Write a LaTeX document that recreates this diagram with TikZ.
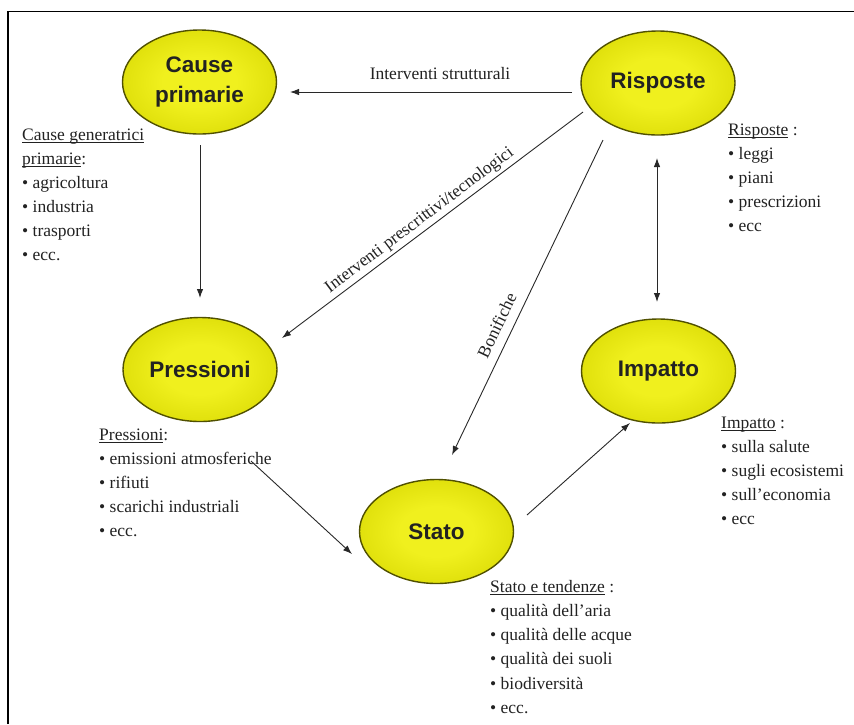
\documentclass[tikz,border=0pt]{standalone}
\usepackage{fontspec}
\setmainfont{Liberation Serif}
\newfontfamily\titlefont{Liberation Sans}
\usetikzlibrary{shapes.geometric,arrows.meta,calc}

\definecolor{yc}{RGB}{240,240,30}
\definecolor{ym}{RGB}{214,214,0}
\definecolor{yd}{RGB}{160,160,0}
\definecolor{ydk}{RGB}{80,80,0}
\definecolor{txt}{RGB}{34,34,34}
\definecolor{arr}{RGB}{40,40,40}

\pgfdeclareradialshading{ellshade}{\pgfpoint{0bp}{0bp}}{%
  color(0bp)=(yc); color(12bp)=(yc); color(34bp)=(ym);
  color(50bp)=(yd); color(70bp)=(yd)}

% underline sitting just below the baseline
\newcommand\ulin[1]{\setbox0\hbox{#1}\rlap{\vrule width\wd0 height-2.2pt depth3.1pt}\box0\relax}
% a stack of lines whose first baseline is the node's base
\newcommand\stack[2]{\vtop{\baselineskip=#1pt\lineskiplimit=-100pt\relax #2}}
\newcommand\itm[1]{\hbox{\textbullet\ #1}}

\begin{document}
\begin{tikzpicture}[x=1pt,y=-1pt,
  phase/.style={ellipse, draw=ydk, line width=1.4pt, shade, shading=ellshade,
    minimum width=154pt, minimum height=104pt, inner sep=0pt,
    font=\titlefont\bfseries\fontsize{22.5}{30}\selectfont, text=txt, align=center},
  blk/.style={anchor=base west, inner sep=0pt, text=txt,
    font=\fontsize{17.5}{24}\selectfont},
  lbl/.style={inner sep=2pt, text=txt, font=\fontsize{17.5}{20}\selectfont},
  conn/.style={draw=arr, line width=0.9pt, -{Latex[length=9pt,width=6.5pt]}},
  conn2/.style={draw=arr, line width=0.9pt, {Latex[length=9pt,width=6.5pt]}-{Latex[length=9pt,width=6.5pt]}}
]
\useasboundingbox (0,0) rectangle (854,724);

% frame
\draw[line width=1.4pt] (8,724) -- (8,11.5) -- (854,11.5);

% the five phases
\node[phase] (C) at (199.5,82) {Cause\\primarie};
\node[phase] (R) at (658,83) {Risposte};
\node[phase] (P) at (200,369.5) {Pressioni};
\node[phase] (I) at (658.5,371) {Impatto};
\node[phase] (S) at (436.5,531.5) {Stato};

% descriptions
\node[blk] (tC) at (22,140) {\stack{24}{%
  \hbox{\ulin{Cause generatrici}}
  \hbox{\ulin{primarie}:}
  \itm{agricoltura}
  \itm{industria}
  \itm{trasporti}
  \itm{ecc.}}};
\node[blk] (tR) at (728,135) {\stack{24}{%
  \hbox{\ulin{Risposte} :}
  \itm{leggi}
  \itm{piani}
  \itm{prescrizioni}
  \itm{ecc}}};
\node[blk] (tP) at (99,440) {\stack{24}{%
  \hbox{\ulin{Pressioni}:}
  \itm{emissioni atmosferiche}
  \itm{rifiuti}
  \itm{scarichi industriali}
  \itm{ecc.}}};
\node[blk] (tI) at (721,428) {\stack{24}{%
  \hbox{\ulin{Impatto} :}
  \itm{sulla salute}
  \itm{sugli ecosistemi}
  \itm{sull'economia}
  \itm{ecc}}};
\node[blk] (tS) at (490,592) {\stack{24.3}{%
  \hbox{\ulin{Stato e tendenze} :}
  \itm{qualità dell'aria}
  \itm{qualità delle acque}
  \itm{qualità dei suoli}
  \itm{biodiversità}
  \itm{ecc.}}};

% connectors
\draw[conn] ($(R)+(-86,9)$) -- node[lbl, pos=0.468, above=10pt] (l1) {Interventi strutturali} ($(C)+(90.5,10)$);
\draw[conn] ($(C)+(0.5,63)$) -- ($(P)+(0,-71.5)$);
\draw[conn] ($(R)+(-75,29)$) -- node[lbl, sloped, pos=0.52, above=1pt] (l2) {Interventi prescrittivi/tecnologici} ($(P)+(82,-31.5)$);
\draw[conn] ($(R)+(-55,57)$) -- node[lbl, sloped, pos=0.61, above=7pt] (l3) {Bonifiche} ($(S)+(15.5,-76.5)$);
\draw[conn2] ($(R)+(-1,75)$) -- ($(I)+(-1.5,-69)$);
\draw[conn] ($(P)+(51,91.5)$) -- ($(S)+(-84.5,22.5)$);
\draw[conn] ($(S)+(90.5,-16.5)$) -- ($(I)+(-28.5,52)$);
\end{tikzpicture}
\end{document}
